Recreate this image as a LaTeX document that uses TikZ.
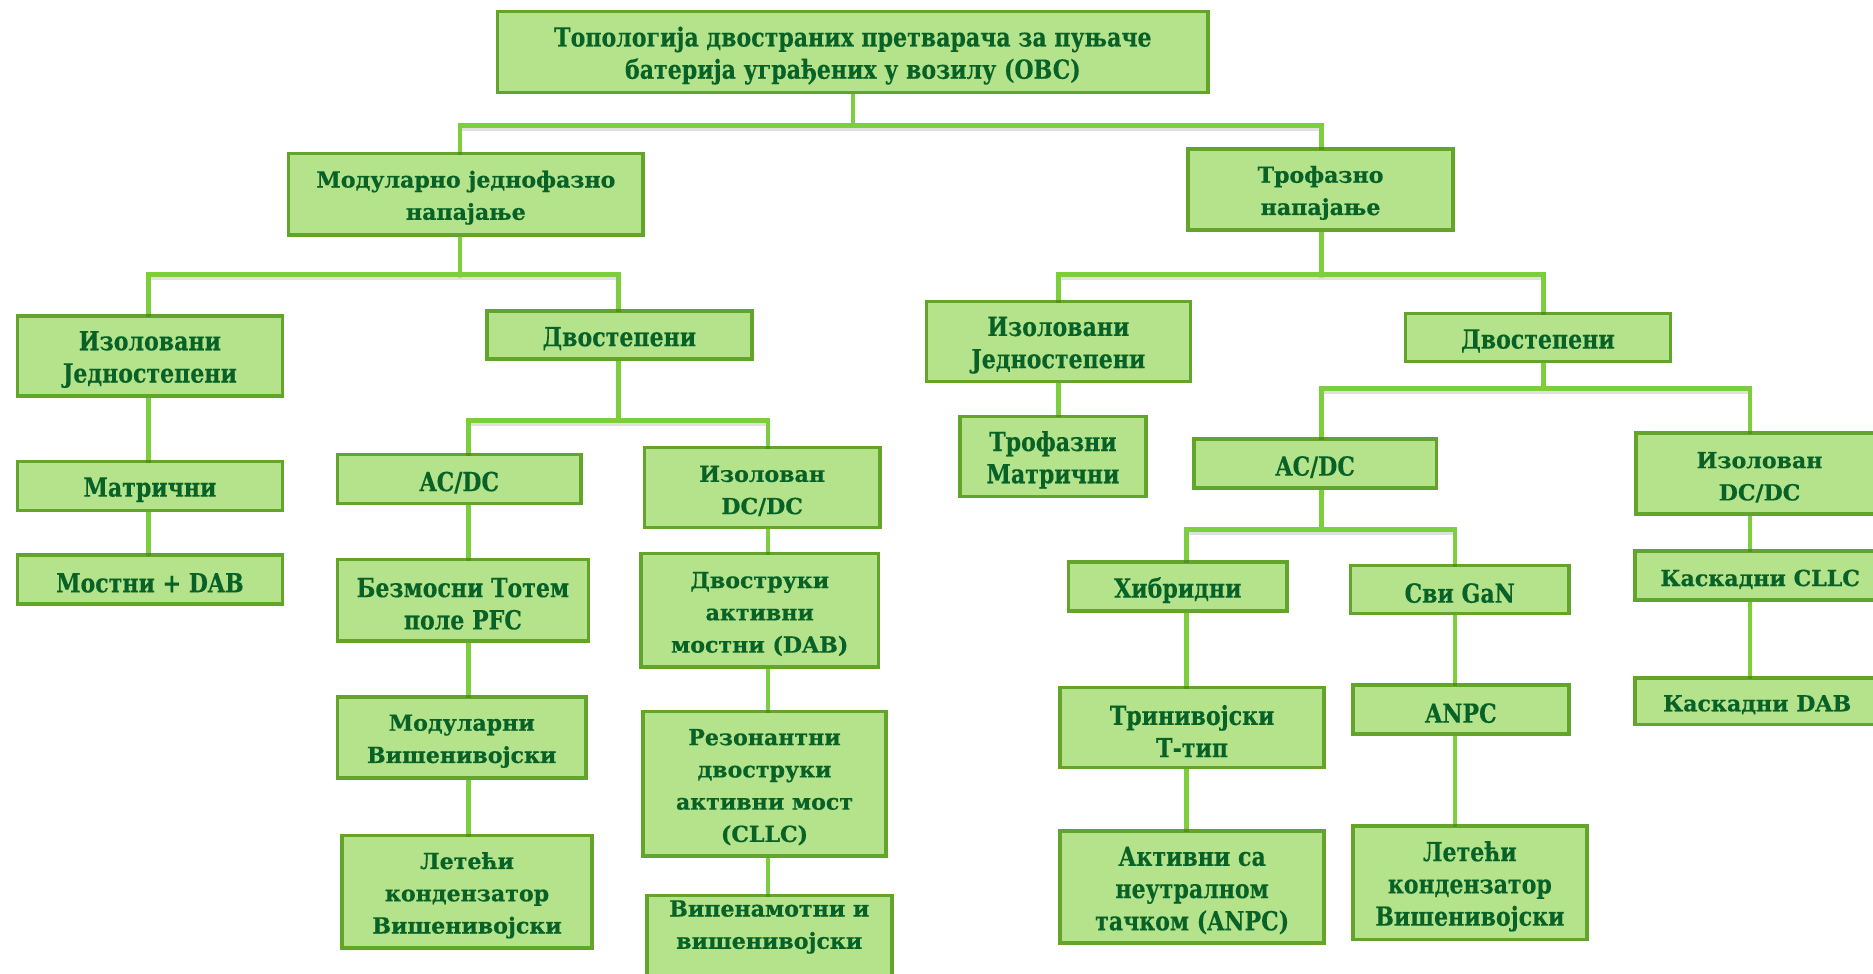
\documentclass[tikz,border=0pt]{standalone}
\usepackage{fontspec}
\newfontfamily\widefont[BoldFeatures={FakeBold=0.6}]{DejaVu Serif}
\newfontfamily\narrowfont[FakeStretch=0.84,BoldFeatures={FakeBold=0.3}]{DejaVu Serif}
\definecolor{boxfill}{RGB}{180,227,139}
\definecolor{boxline}{RGB}{99,165,43}
\definecolor{linkgreen}{RGB}{124,206,60}
\definecolor{textgreen}{RGB}{8,98,40}

\tikzset{
  obc/.style={draw=boxline, fill=boxfill, line width=3pt, inner sep=0pt},
  obctext/.style={align=center, text=textgreen, inner sep=0pt, yshift=-3pt},
  wide/.style={font=\widefont\bfseries\fontsize{18.5}{27}\selectfont},
  narrow/.style={font=\narrowfont\bfseries\fontsize{22}{27}\selectfont},
  conn/.style={draw=linkgreen, line width=4pt,
    preaction={draw=black, opacity=0.12, line width=4pt,
      transform canvas={yshift=-2.5pt}}}
}

% font style, name, left, top, right, bottom, text
\newcommand\obcbox[7]{%
  \node[obc,minimum width={#5-#3-3},minimum height={#6-#4-3},
    label={[obctext,#1]center:#7}] (#2)
    at ({(#3+#5)/2},{(#4+#6)/2}) {};}

\begin{document}
\begin{tikzpicture}[x=1pt,y=-1pt]
\useasboundingbox (0,0) rectangle (1568,815);
\clip (0,0) rectangle (1568,815);

% vertical tracks and bar levels
\coordinate (xA) at (385,0);
\coordinate (xB) at (1106,0);
\coordinate (x1) at (124,0);
\coordinate (x2) at (518,0);
\coordinate (x3) at (392,0);
\coordinate (x4) at (643,0);
\coordinate (x5) at (886,0);
\coordinate (x6) at (1292,0);
\coordinate (x8) at (1465,0);
\coordinate (x9) at (993,0);
\coordinate (x10) at (1218,0);
\coordinate (y0) at (0,105);
\coordinate (y1) at (0,230);
\coordinate (y2) at (0,352);
\coordinate (y3) at (0,325);
\coordinate (y4) at (0,443);

% boxes
\obcbox{narrow}{root}{415}{8}{1013}{79}{Топологија двостраних претварача за пуњаче\\батерија уграђених у возилу (OBC)}
\obcbox{wide}{mod}{240}{127}{540}{198}{Модуларно једнофазно\\напајање}
\obcbox{wide}{tro}{993}{123}{1218}{194}{Трофазно\\напајање}

\obcbox{narrow}{isoL}{13}{263}{238}{333}{Изоловани\\Једностепени}
\obcbox{narrow}{dvoL}{406}{259}{631}{302}{Двостепени}
\obcbox{narrow}{matL}{13}{385}{238}{429}{Матрични}
\obcbox{narrow}{most}{13}{463}{238}{507}{Мостни + DAB}

\obcbox{narrow}{acL}{281}{379}{488}{423}{AC/DC}
\obcbox{wide}{dcL}{538}{373}{738}{443}{Изолован\\DC/DC}
\obcbox{narrow}{bezm}{281}{467}{494}{538}{Безмосни Тотем\\поле PFC}
\obcbox{wide}{modv}{281}{582}{492}{653}{Модуларни\\Вишенивојски}
\obcbox{wide}{letL}{285}{698}{497}{795}{Летећи\\кондензатор\\Вишенивојски}
\obcbox{wide}{dab}{535}{462}{737}{560}{Двоструки\\активни\\мостни (DAB)}
\obcbox{wide}{res}{537}{594}{743}{718}{Резонантни\\двоструки\\активни мост\\(CLLC)}
\obcbox{wide}{vip}{540}{748}{748}{848}{Випенамотни и\\вишенивојски\\[27pt]}

\obcbox{narrow}{isoR}{774}{251}{998}{321}{Изоловани\\Једностепени}
\obcbox{narrow}{dvoR}{1175}{261}{1400}{304}{Двостепени}
\obcbox{narrow}{trom}{802}{347}{961}{417}{Трофазни\\Матрични}
\obcbox{narrow}{acR}{998}{366}{1204}{410}{AC/DC}
\obcbox{wide}{dcR}{1368}{361}{1578}{432}{Изолован\\DC/DC}
\obcbox{narrow}{hib}{893}{469}{1079}{513}{Хибридни}
\obcbox{narrow}{gan}{1129}{472}{1315}{515}{Сви GaN}
\obcbox{narrow}{trin}{886}{574}{1110}{644}{Тринивојски\\Т-тип}
\obcbox{narrow}{anpcA}{886}{694}{1110}{791}{Активни са\\неутралном\\тачком (ANPC)}
\obcbox{narrow}{anpc}{1131}{572}{1315}{616}{ANPC}
\obcbox{narrow}{letR}{1131}{690}{1330}{788}{Летећи\\кондензатор\\Вишенивојски}
\obcbox{wide}{cllc}{1367}{460}{1580}{504}{Каскадни CLLC}
\obcbox{wide}{cdab}{1367}{566}{1575}{608}{Каскадни DAB}

% connectors
\draw[conn] (root.south) -- (root.south |- y0);
\draw[conn] (mod.north -| xA) -- (xA |- y0) -- (xB |- y0) -- (tro.north -| xB);

\draw[conn] (mod.south -| xA) -- (xA |- y1);
\draw[conn] (isoL.north -| x1) -- (x1 |- y1) -- (x2 |- y1) -- (dvoL.north -| x2);
\draw[conn] (isoL.south -| x1) -- (matL.north -| x1);
\draw[conn] (matL.south -| x1) -- (most.north -| x1);

\draw[conn] (dvoL.south -| x2) -- (x2 |- y2);
\draw[conn] (acL.north -| x3) -- (x3 |- y2) -- (x4 |- y2) -- (dcL.north -| x4);
\draw[conn] (acL.south -| x3) -- (bezm.north -| x3);
\draw[conn] (bezm.south -| x3) -- (modv.north -| x3);
\draw[conn] (modv.south -| x3) -- (letL.north -| x3);
\draw[conn] (dcL.south -| x4) -- (dab.north -| x4);
\draw[conn] (dab.south -| x4) -- (res.north -| x4);
\draw[conn] (res.south -| x4) -- (vip.north -| x4);

\draw[conn] (tro.south -| xB) -- (xB |- y1);
\draw[conn] (isoR.north -| x5) -- (x5 |- y1) -- (x6 |- y1) -- (dvoR.north -| x6);
\draw[conn] (isoR.south -| x5) -- (trom.north -| x5);

\draw[conn] (dvoR.south -| x6) -- (x6 |- y3);
\draw[conn] (acR.north -| xB) -- (xB |- y3) -- (x8 |- y3) -- (dcR.north -| x8);
\draw[conn] (dcR.south -| x8) -- (cllc.north -| x8);
\draw[conn] (cllc.south -| x8) -- (cdab.north -| x8);

\draw[conn] (acR.south -| xB) -- (xB |- y4);
\draw[conn] (hib.north -| x9) -- (x9 |- y4) -- (x10 |- y4) -- (gan.north -| x10);
\draw[conn] (hib.south -| x9) -- (trin.north -| x9);
\draw[conn] (trin.south -| x9) -- (anpcA.north -| x9);
\draw[conn] (gan.south -| x10) -- (anpc.north -| x10);
\draw[conn] (anpc.south -| x10) -- (letR.north -| x10);
\end{tikzpicture}
\end{document}
